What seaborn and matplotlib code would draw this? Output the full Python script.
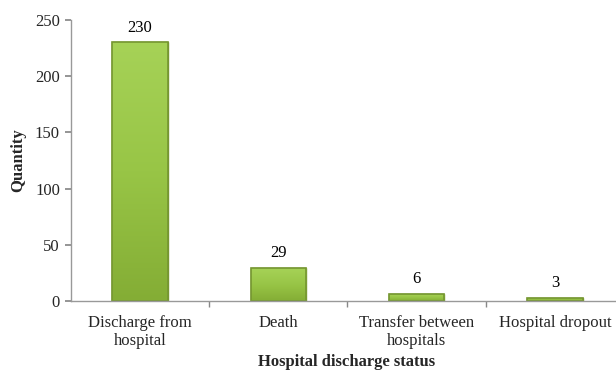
import matplotlib
matplotlib.use("Agg")
import matplotlib.pyplot as plt
import seaborn as sns
import numpy as np
import pandas as pd
from matplotlib.colors import LinearSegmentedColormap
from matplotlib.patches import Rectangle

categories = ["Discharge from\nhospital", "Death", "Transfer between\nhospitals", "Hospital dropout"]
values = [230, 29, 6, 3]
yticks = [0, 50, 100, 150, 200, 250]

sns.set_theme(style="white")
plt.rcParams['font.family'] = ['Liberation Serif', 'DejaVu Serif']

df = pd.DataFrame({"status": categories, "qty": values})

fig = plt.figure(figsize=(6.16, 3.72), dpi=100)
ax = fig.add_axes([71/616, 1-301/372, (624-71)/616, (301-20)/372])

sns.barplot(data=df, x="status", y="qty", ax=ax, width=0.40,
            color="#9bc848", edgecolor="#7d9c33", linewidth=1.0, saturation=1)

cmap = LinearSegmentedColormap.from_list("g", ["#84ad35", "#98c546", "#a6d257"])
grad = np.linspace(0, 1, 256).reshape(-1, 1)
for p in ax.patches[:len(values)]:
    x0, y0 = p.get_x(), p.get_y()
    w, h = p.get_width(), p.get_height()
    im = ax.imshow(grad, extent=[x0, x0 + w, y0, y0 + h], origin="lower",
                   cmap=cmap, aspect="auto", zorder=p.get_zorder() + 0.1)
    im.set_clip_path(p)
    p.set_facecolor("none")
    ax.add_patch(Rectangle((x0, y0), w, h, fill=False, edgecolor="#759631",
                           linewidth=1.2, zorder=p.get_zorder() + 0.2))

for i, v in enumerate(values):
    ax.annotate(str(v), (i, v), xytext=(0, 5), textcoords="offset points",
                ha="center", va="bottom", fontsize=12, color="black")

ax.set_xlim(-0.5, 3.5)
ax.set_ylim(0, 250)
ax.set_yticks(yticks)
ax.set_yticklabels([str(t) for t in yticks], fontsize=12)
ax.set_xticks(range(len(categories)))
ax.set_xticklabels(categories, fontsize=12, linespacing=1.2)
ax.tick_params(axis="x", length=0, pad=10)
ax.tick_params(axis="y", length=4, color="#888888", direction="out", left=True, pad=4)
ax.set_xticks([0.5, 1.5, 2.5], minor=True)
ax.tick_params(axis="x", which="minor", length=4, color="#888888", direction="out", bottom=True)

for s in ["top", "right"]:
    ax.spines[s].set_visible(False)
for s in ["left", "bottom"]:
    ax.spines[s].set_color("#999999")
    ax.spines[s].set_linewidth(1.0)

ax.set_xlabel("")
fig.text(347/616, 1-362/372, "Hospital discharge status", fontsize=12,
         fontweight="bold", ha="center", va="center")
ax.set_ylabel("Quantity", fontsize=12, fontweight="bold", labelpad=6)

fig.savefig("out.png", dpi=100)
